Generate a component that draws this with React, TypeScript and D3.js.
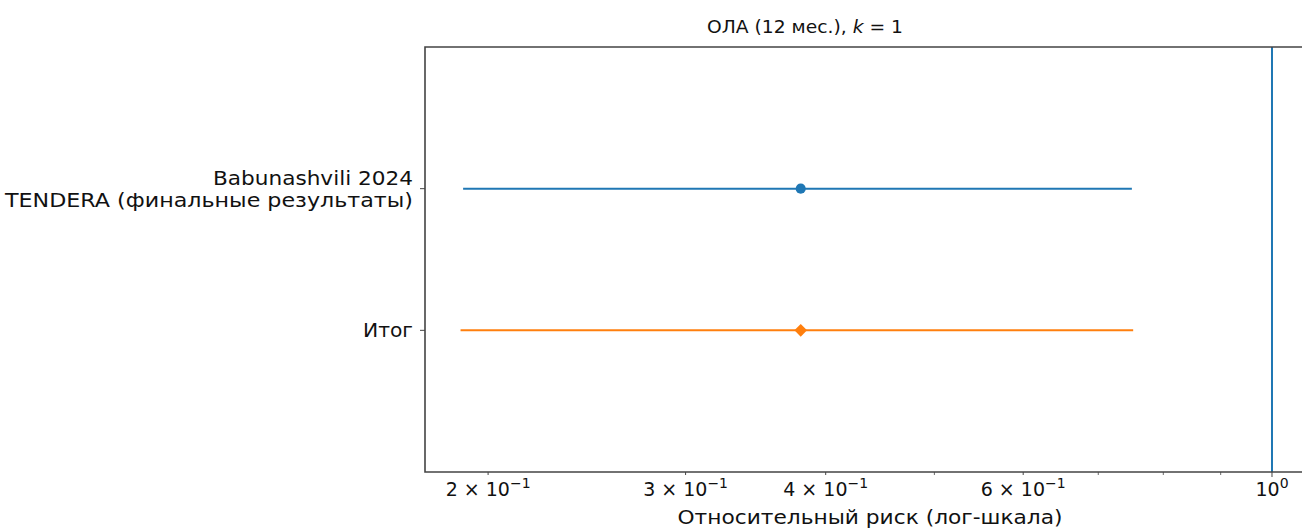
import React from "react";
import * as d3 from "d3";

// study rows (top to bottom), each label can have several lines
const studyLabels = [["Babunashvili 2024", "TENDERA (финальные результаты)"], ["Итог"]];
const labelWidths = [[200, 408], [50]];
const estimates = [0.38, 0.38];
const lowers = [0.19, 0.189];
const uppers = [0.75, 0.752];
const colors = ["#1f77b4", "#ff7f0e"];
const markers = ["circle", "diamond"];

// x ticks of the log axis
const tickValues = [0.2, 0.3, 0.4, 0.6, 1.0];
const tickMantissa = ["2", "3", "4", "6", ""];
const tickExponent = ["−1", "−1", "−1", "−1", "0"];
const minorTicks = [0.5, 0.7, 0.8, 0.9];

const W = 1302;
const H = 530;
const plot = { left: 425, right: 1312, top: 47, bottom: 472 };
const font = "'DejaVu Sans', sans-serif";

const App = () => {
  const x = d3.scaleLog().domain([0.1757, 1.0856]).range([plot.left, plot.right]);
  const y = d3.scaleLinear().domain([-1, 2]).range([plot.top, plot.bottom]);

  const sym = (kind: string) =>
    kind === "circle"
      ? d3.symbol().type(d3.symbolCircle).size(80)()
      : d3.symbol().type(d3.symbolSquare).size(80)();

  return (
    <svg width={W} height={H} style={{ position: "absolute", left: 0, top: 0, background: "#fff" }} fontFamily={font}>
      {/* title */}
      <text x={805} y={33} textAnchor="middle" fontSize={17} fill="#111" textLength={196} lengthAdjust="spacingAndGlyphs">
        ОЛА (12 мес.), <tspan fontStyle="italic">k</tspan> = 1
      </text>

      {/* reference line at RR = 1 */}
      <line x1={x(1)} x2={x(1)} y1={plot.top} y2={plot.bottom} stroke="#1f77b4" strokeWidth={2} />

      {/* CI lines and points */}
      {estimates.map((e, i) => (
        <g key={i}>
          <line x1={x(lowers[i])} x2={x(uppers[i])} y1={y(i)} y2={y(i)} stroke={colors[i]} strokeWidth={2} />
          <path
            d={sym(markers[i]) || ""}
            transform={`translate(${x(e)},${y(i)})${markers[i] === "diamond" ? " rotate(45)" : ""}`}
            fill={colors[i]}
          />
        </g>
      ))}

      {/* spines */}
      <path
        d={`M${plot.right},${plot.top}H${plot.left}V${plot.bottom}H${plot.right}`}
        fill="none"
        stroke="#444"
        strokeWidth={1.6}
      />

      {/* y ticks + labels */}
      {studyLabels.map((lines, i) => {
        const yc = y(i);
        const lh = 22;
        const first = yc - ((lines.length - 1) * lh) / 2 + 7;
        return (
          <g key={i}>
            <line x1={plot.left - 5} x2={plot.left} y1={yc} y2={yc} stroke="#444" strokeWidth={1} />
            {lines.map((l, j) => (
              <text
                key={j}
                x={plot.left - 12}
                y={first + j * lh}
                textAnchor="end"
                fontSize={20}
                fill="#111"
                textLength={labelWidths[i][j]}
                lengthAdjust="spacingAndGlyphs"
              >
                {l}
              </text>
            ))}
          </g>
        );
      })}

      {/* x ticks */}
      {minorTicks.map((t) => (
        <line key={t} x1={x(t)} x2={x(t)} y1={plot.bottom} y2={plot.bottom + 3} stroke="#444" strokeWidth={0.8} />
      ))}
      {tickValues.map((t, i) => (
        <g key={t}>
          <line x1={x(t)} x2={x(t)} y1={plot.bottom} y2={plot.bottom + (t === 1 ? 5 : 3)} stroke="#444" strokeWidth={1} />
          <text x={x(t)} y={496} textAnchor="middle" fontSize={19} fill="#111">
            {tickMantissa[i] ? `${tickMantissa[i]} × 10` : "10"}
            <tspan dy={-8} fontSize={14}>
              {tickExponent[i]}
            </tspan>
          </text>
        </g>
      ))}

      {/* x label */}
      <text x={870} y={524} textAnchor="middle" fontSize={20} fill="#111" textLength={385} lengthAdjust="spacingAndGlyphs">
        Относительный риск (лог-шкала)
      </text>
    </svg>
  );
};

export default App;
